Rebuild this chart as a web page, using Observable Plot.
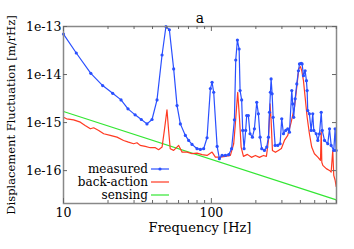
<!DOCTYPE html>
<html><head><meta charset="utf-8">
<script src="https://cdn.jsdelivr.net/npm/d3@7"></script>
<script src="https://cdn.jsdelivr.net/npm/@observablehq/plot@0.6"></script>
<style>body{margin:0;background:#fff} svg, svg text{font-family:"DejaVu Serif","Liberation Serif",serif !important}</style>
</head><body><div id="chart"></div>
<script>
const measuredFreq = [10,12.2,15.3,18.4,21.5,24.5,27.3,30.5,33.6,36.7,39.7,42.9,46.4,49.3,52,55.6,58.6,61.7,66.7,70.2,74,80,84.2,88.7,93.5,98.5,101.1,103.7,109.4,113.3,118.1,124.4,131,137,143.2,146.2,150,154.1,156.4,160.3,162.9,166.4,170.6,173.4,177.9,182.6,189.5,195.5,202.7,208,213.6,219.1,228.6,236.8,243.2,247.2,250.8,253.6,257.6,261.7,270,281.2,291.7,299.2,307.3,318.5,328.6,337.4,349.8,355,360.6,368.7,378.2,388,394.5,404.8,411,419.6,430.7,439.5,444.4,448.6,460.4,472.9,485,493,511.7,524.8,538.5,553.4,562.2,582.4,612.9,629.5,646,672.6,687.3,698];
const measuredVal = [6.95e-14,2.81e-14,1.06e-14,5.89e-15,4.07e-15,2.97e-15,1.93e-15,1.45e-15,1.16e-15,9.4e-16,1.16e-15,2.97e-15,2.55e-14,1.0e-13,8.55e-14,1.31e-14,2.26e-15,9.4e-16,5.4e-16,4.25e-16,3.52e-16,2.86e-16,2.77e-16,2.86e-16,4.84e-16,5.1e-15,6.9e-15,4.28e-15,3.19e-16,1.77e-16,2.07e-16,2.07e-16,2.15e-16,2.86e-16,1.14e-15,2.01e-14,5.22e-14,3.4e-14,4.63e-15,2.97e-15,6.86e-16,2.86e-16,6.86e-16,1.4e-15,1.4e-15,5.86e-16,4.98e-16,7.43e-16,2.65e-15,1.52e-15,4.98e-16,2.86e-16,2.64e-16,3.09e-16,4.98e-16,1.64e-15,4.28e-15,8.11e-15,3.96e-15,1.29e-15,3.35e-16,3.35e-16,3.63e-16,1.2e-15,5.86e-16,6.86e-16,7.43e-16,6.32e-16,4.63e-15,2.45e-15,1.29e-15,3.12e-15,6.38e-15,1.2e-14,1.66e-14,1.71e-14,1.66e-14,9.48e-15,1.2e-14,7.46e-15,4.63e-15,1.78e-15,1.52e-15,6.86e-16,1.52e-15,6.86e-16,5.86e-16,4.25e-16,5.86e-16,1.64e-15,6.86e-16,4.25e-16,3.63e-16,7.43e-16,3.35e-16,2.64e-16,7.43e-16,2.64e-16];
const backFreq = [10,10.5,11.7,13,14,15.2,16,17.3,18.7,20.7,23,25.5,27.5,29.8,31.4,33,35.7,38.6,41.8,44,46.4,48.1,50.1,51.4,52.7,55.6,60.1,63.4,68.5,74,80,86.5,93.5,101.1,106.5,115.1,124.4,134.5,141.6,144.7,150.7,154.8,159,164.8,175.2,186.6,198.6,211.4,225,235.7,243.2,249.5,253.6,258.8,271.2,284,297.6,312,328.6,346.6,364.9,380.2,389.9,400.5,408.7,419.6,430.7,444.4,460.4,477.2,497.8,524.8,547,553.4,558.5,567.5,598.4,629.5,646,662.2,672.6,687.3,698];
const backVal = [1.29e-15,1.2e-15,1.14e-15,1.02e-15,8.7e-16,7.43e-16,7.8e-16,6.86e-16,5.86e-16,5.4e-16,4.98e-16,4.25e-16,3.92e-16,3.63e-16,3.8e-16,3.35e-16,3.19e-16,3.0e-16,3.0e-16,2.73e-16,3.09e-16,6.86e-16,1.85e-15,6.86e-16,2.86e-16,2.64e-16,3.35e-16,2.43e-16,2.43e-16,2.25e-16,2.32e-16,2.15e-16,2.07e-16,2.43e-16,1.91e-16,1.91e-16,1.98e-16,2.07e-16,3.63e-16,8.04e-16,4.28e-15,1.29e-15,3.09e-16,1.98e-16,2.18e-16,1.89e-16,2.07e-16,1.89e-16,2.07e-16,1.98e-16,4.25e-16,2.45e-15,1.11e-15,2.64e-16,2.4e-16,2.64e-16,2.9e-16,4.25e-16,5.4e-16,1.02e-15,2.09e-15,6.38e-15,1.31e-14,1.46e-14,1.2e-14,7.46e-15,3.37e-15,1.29e-15,5.86e-16,3.09e-16,2.25e-16,1.91e-16,1.64e-16,6.86e-16,1.49e-16,1.29e-16,1.1e-16,1.01e-16,9.35e-17,2.64e-16,7.98e-17,6.3e-17,4.72e-17];
const sensingFreq = [10, 700];
const sensingVal = [1.7e-15, 2.46e-17];
const yTicks = [1e-13, 1e-14, 1e-15, 1e-16];
const yTickLabels = ["1e-13", "1e-14", "1e-15", "1e-16"];
const xTicks = [10, 100];
const xTickLabels = ["10", "100"];
const xMinor = [20,30,40,50,60,70,80,90,200,300,400,500,600,700];
const seriesNames = ["measured", "back-action", "sensing"];
const titleText = "a";
const xLabel = "Frequency [Hz]";
const yLabel = "Displacement Fluctuation [m/rHz]";

const BLUE = "#2a50ff", RED = "#ff3a22", GREEN = "#33e633";
const FONT = "'DejaVu Serif', 'Liberation Serif', serif";
const W = 354, H = 249, ML = 63, MR = 18, MT = 26, MB = 46;
const PW = W - ML - MR, PH = H - MT - MB;

const measured = measuredFreq.map((f, i) => ({f, v: measuredVal[i]}));
const back = backFreq.map((f, i) => ({f, v: backVal[i]}));
const sensing = sensingFreq.map((f, i) => ({f, v: sensingVal[i]}));

const plot = Plot.plot({
  width: W, height: H,
  marginLeft: ML, marginRight: MR, marginTop: MT, marginBottom: MB,
  style: {fontFamily: FONT, fontSize: "12.5px", color: "#000", background: "#fff"},
  x: {type: "log", domain: [10, 702]},
  y: {type: "log", domain: [2.07e-17, 1e-13]},
  marks: [
    Plot.line(sensing, {x: "f", y: "v", stroke: GREEN, strokeWidth: 1.2}),
    Plot.line(back, {x: "f", y: "v", stroke: RED, strokeWidth: 1.2}),
    Plot.line(measured, {x: "f", y: "v", stroke: BLUE, strokeWidth: 1.2}),
    Plot.dot(measured, {x: "f", y: "v", fill: BLUE, r: 1.6}),
    Plot.frame({stroke: "#888", strokeWidth: 1.5}),
    Plot.tickY(yTicks, {y: d => d, stroke: "#666", insetRight: PW - 4}),
    Plot.tickY(yTicks, {y: d => d, stroke: "#666", insetLeft: PW - 4}),
    Plot.tickX(xTicks, {x: d => d, stroke: "#666", insetTop: PH - 5}),
    Plot.tickX(xTicks, {x: d => d, stroke: "#666", insetBottom: PH - 5}),
    Plot.tickX(xMinor, {x: d => d, stroke: "#666", insetTop: PH - 3}),
    Plot.tickX(xMinor, {x: d => d, stroke: "#666", insetBottom: PH - 3}),
    Plot.axisY({ticks: yTicks, tickFormat: d => yTickLabels[yTicks.indexOf(d)], tickSize: 0, tickPadding: 2,
      fontSize: 12.5, fontFamily: FONT, label: null}),
    Plot.axisX({ticks: xTicks, tickFormat: d => xTickLabels[xTicks.indexOf(d)], tickSize: 0, tickPadding: 5,
      fontSize: 12.5, fontFamily: FONT, label: null}),
    Plot.text([yLabel], {frameAnchor: "left", dx: -57, rotate: -90, textAnchor: "middle", lineAnchor: "top", fontSize: 11.5, fontFamily: FONT, text: d => d}),
    Plot.text([xLabel], {frameAnchor: "bottom", dy: 28, fontSize: 13, fontFamily: FONT, text: d => d}),
    Plot.text([titleText], {frameAnchor: "top", dy: -13, fontSize: 14, fontFamily: FONT, text: d => d})
  ]
});
document.getElementById("chart").appendChild(plot);

// legend
const svg = d3.select(plot);
const colors = [BLUE, RED, GREEN];
const lg = svg.append("g").attr("font-family", FONT).attr("font-size", 12);
seriesNames.forEach((name, i) => {
  const y = MT + 143 + i * 13;
  lg.append("text").attr("x", ML + 85).attr("y", y).attr("dy", "0.32em").attr("text-anchor", "end").attr("fill", "#000").text(name);
  lg.append("line").attr("x1", ML + 88).attr("x2", ML + 106).attr("y1", y).attr("y2", y).attr("stroke", colors[i]).attr("stroke-width", 1.2);
  if (i === 0) lg.append("circle").attr("cx", ML + 97).attr("cy", y).attr("r", 1.6).attr("fill", BLUE);
});
</script></body></html>
